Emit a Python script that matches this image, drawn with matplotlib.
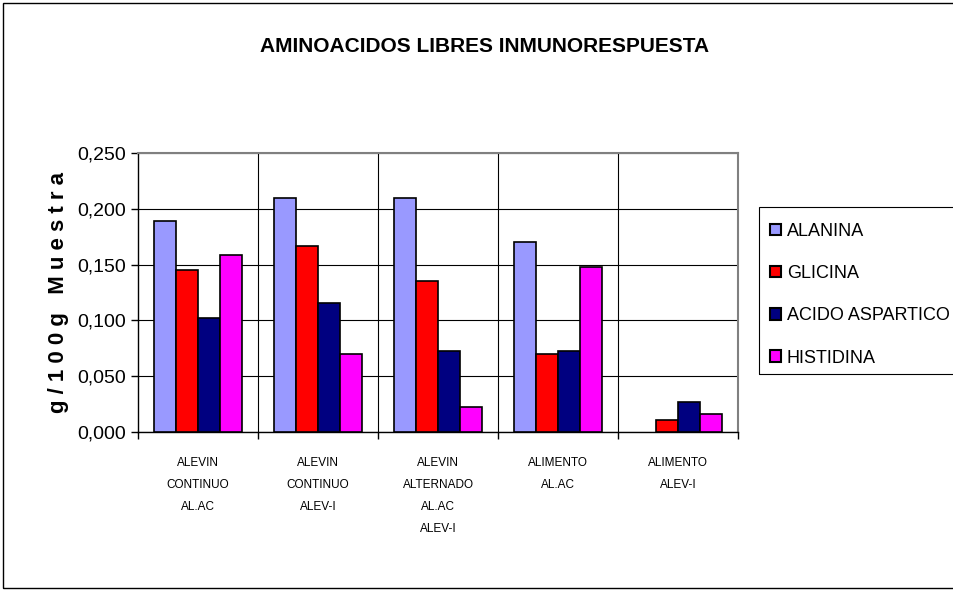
import matplotlib
matplotlib.use("Agg")
import matplotlib.pyplot as plt
import numpy as np
from matplotlib.patches import Rectangle

plt.rcParams['font.family'] = ['Liberation Sans', 'DejaVu Sans']

# ── data ──────────────────────────────────────────────
groups = ["ALEVIN\nCONTINUO\nAL.AC", "ALEVIN\nCONTINUO\nALEV-I",
          "ALEVIN\nALTERNADO\nAL.AC\nALEV-I", "ALIMENTO\nAL.AC", "ALIMENTO\nALEV-I"]
series = ["ALANINA", "GLICINA", "ACIDO ASPARTICO", "HISTIDINA"]
alanina   = [0.189, 0.210, 0.210, 0.170, 0.000]
glicina   = [0.145, 0.167, 0.135, 0.070, 0.011]
aspartico = [0.102, 0.116, 0.073, 0.073, 0.027]
histidina = [0.159, 0.070, 0.022, 0.148, 0.016]
colors = ["#9999FF", "#FF0000", "#000080", "#FF00FF"]
yticks = [0, 0.05, 0.10, 0.15, 0.20, 0.25]

values = [alanina, glicina, aspartico, histidina]

fig = plt.figure(figsize=(9.54, 5.92), dpi=100)
ax = fig.add_axes([0.1447, 0.2703, 0.629, 0.4713])

x = np.arange(len(groups))
w = 1 / 5.5
for i, (vals, name, col) in enumerate(zip(values, series, colors)):
    edge = ["black" if v > 0 else "none" for v in vals]
    ax.bar(x - 2 * w + (i + 0.5) * w, vals, width=w, color=col,
           edgecolor=edge, linewidth=1.2, label=name, zorder=3)

ax.set_xlim(-0.5, len(groups) - 0.5)
ax.set_ylim(0, 0.25)
ax.set_yticks(yticks)
ax.set_yticklabels([f"{v:.3f}".replace(".", ",") for v in yticks], fontsize=14)
ax.yaxis.grid(True, color="black", linewidth=0.8, zorder=0)

# category boundaries as vertical grid lines
for b in np.arange(0.5, len(groups) - 0.5, 1):
    ax.axvline(b, color="black", linewidth=0.8, zorder=0)
ax.set_xticks(np.arange(-0.5, len(groups), 1), minor=True)
ax.tick_params(axis="x", which="minor", length=5, width=1, direction="out")
ax.set_xticks(x)
ax.set_xticklabels(groups, fontsize=8.5, linespacing=2.1, va="top")
ax.tick_params(axis="x", which="major", length=0, pad=18)
ax.tick_params(axis="y", length=5, width=1, direction="out")

for s in ["top", "right"]:
    ax.spines[s].set_color("#808080")
    ax.spines[s].set_linewidth(1.5)
ax.spines["left"].set_linewidth(1)
ax.spines["bottom"].set_linewidth(1)

ax.set_ylabel("g / 1 0 0 g   M u e s t r a", fontsize=16, fontweight="bold", labelpad=6)

fig.suptitle("AMINOACIDOS LIBRES INMUNORESPUESTA", x=0.508, y=0.937,
             fontsize=15, fontweight="bold")

leg = ax.legend(loc="upper left", bbox_to_anchor=(0.800, 0.636),
                bbox_transform=fig.transFigure, fontsize=13, frameon=False,
                handlelength=0.6, handleheight=0.6, handletextpad=0.3,
                labelspacing=1.4, borderaxespad=0)
for h in leg.legend_handles:
    h.set_edgecolor("black")
    h.set_linewidth(1.5)

# legend box, running past the right edge like the original
fig.patches.append(Rectangle((759 / 954, 1 - 374 / 592), 0.3, 167 / 592,
                             transform=fig.transFigure, fill=False,
                             edgecolor="black", linewidth=0.8))

# chart border
fig.patches.append(Rectangle((0.003, 0.006), 1.2, 0.989, transform=fig.transFigure,
                             fill=False, edgecolor="black", linewidth=1))

plt.savefig("out.png", dpi=100)
